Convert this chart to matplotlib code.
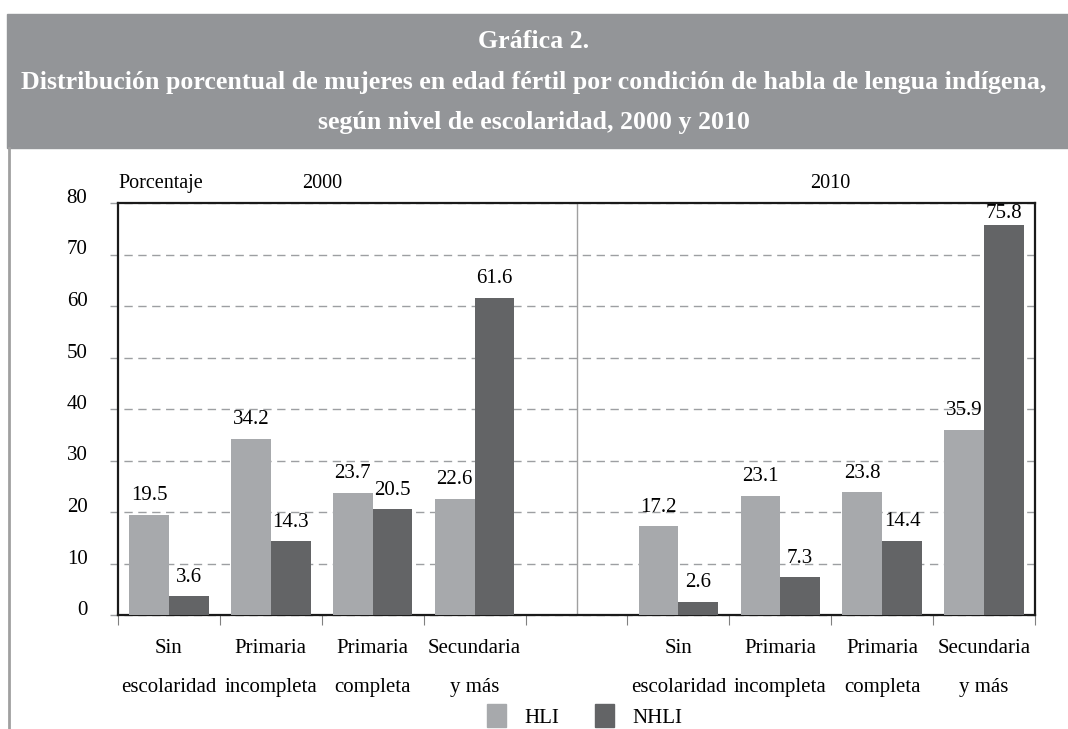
import matplotlib.pyplot as plt
import matplotlib.patches as mpatches
import numpy as np

plt.rcParams["font.family"] = ["Liberation Serif", "DejaVu Serif"]

categorias = ["Sin\nescolaridad", "Primaria\nincompleta", "Primaria\ncompleta", "Secundaria\ny más"]
hli_2000 = [19.5, 34.2, 23.7, 22.6]
nhli_2000 = [3.6, 14.3, 20.5, 61.6]
hli_2010 = [17.2, 23.1, 23.8, 35.9]
nhli_2010 = [2.6, 7.3, 14.4, 75.8]
yticks = [0, 10, 20, 30, 40, 50, 60, 70, 80]

c_hli = "#a7a9ac"
c_nhli = "#636466"
c_band = "#939598"
c_grid = "#9d9fa2"

fig = plt.figure(figsize=(10.68, 7.29), dpi=100)

# banda gris del titulo
fig.patches.append(mpatches.Rectangle((7/1068, 1-148/729), 1, 134/729,
                                      transform=fig.transFigure, color=c_band, zorder=0))
fig.add_artist(plt.Line2D([8.5/1068, 8.5/1068], [0, 1-148/729], transform=fig.transFigure,
                          color="#a0a0a0", lw=2))

titulo = ("Gráfica 2.\n"
          "Distribución porcentual de mujeres en edad fértil por condición de habla de lengua indígena,\n"
          "según nivel de escolaridad, 2000 y 2010")
fig.text(0.5, 1-82/729, titulo, ha="center", va="center", color="white",
         fontsize=18.6, fontweight="bold", linespacing=1.95)

ax = fig.add_axes([118/1068, 1-615/729, (1035-118)/1068, (615-203)/729])

w = 0.39
x00 = np.arange(4) + 0.5
x10 = np.arange(4) + 5.5
bars = []
bars.append(ax.bar(x00 - w/2, hli_2000, w, color=c_hli, zorder=3))
bars.append(ax.bar(x00 + w/2, nhli_2000, w, color=c_nhli, zorder=3))
bars.append(ax.bar(x10 - w/2, hli_2010, w, color=c_hli, zorder=3))
bars.append(ax.bar(x10 + w/2, nhli_2010, w, color=c_nhli, zorder=3))
for b in bars:
    etiquetas = ax.bar_label(b, fmt="%.1f", padding=7, fontsize=15, zorder=4)
    # la barra mas alta queda pegada al borde superior: etiqueta casi sobre la barra
    for t, r in zip(etiquetas, b.patches):
        if r.get_height() > 72:
            t.xyann = (0, 1)

ax.hlines(yticks, -0.08, 9, colors=c_grid, lw=1, linestyles=(0, (6, 4)),
          clip_on=False, zorder=1)
ax.axvline(4.5, ymin=0.006, ymax=1, color="#a0a0a0", lw=1, zorder=1)

ax.set_xlim(0, 9)
ax.set_ylim(0, 80)
ax.set_yticks(yticks)
ax.set_yticklabels([str(v) for v in yticks], fontsize=15)
for lbl in ax.get_yticklabels():
    lbl.set_verticalalignment("baseline")
ax.tick_params(axis="y", length=0, pad=22)

ax.set_xticks(np.arange(10))
ax.set_xticklabels([])
ax.set_xticks(np.concatenate([x00, x10]), minor=True)
ax.set_xticklabels(categorias + categorias, minor=True, fontsize=15, linespacing=2.45)
ax.tick_params(axis="x", which="major", length=7, color="#808080", direction="out")
ax.tick_params(axis="x", which="minor", length=0, pad=17)

for s in ax.spines.values():
    s.set_linewidth(1.6)
    s.set_color("#1a1a1a")

fig.text(118/1068, 1-188/729, "Porcentaje", fontsize=14.5, va="baseline", ha="left")
fig.text(322/1068, 1-188/729, "2000", fontsize=14.5, va="baseline", ha="center")
fig.text(830/1068, 1-188/729, "2010", fontsize=14.5, va="baseline", ha="center")

h1 = mpatches.Patch(color=c_hli, label="HLI")
h2 = mpatches.Patch(color=c_nhli, label="NHLI")
fig.legend(handles=[h1, h2], loc="center", bbox_to_anchor=(585/1068, 1-716/729), ncol=2,
           frameon=False, fontsize=15, handlelength=0.9, handleheight=1.3,
           handletextpad=0.9, columnspacing=1.7)

fig.savefig("out.png", dpi=100)
